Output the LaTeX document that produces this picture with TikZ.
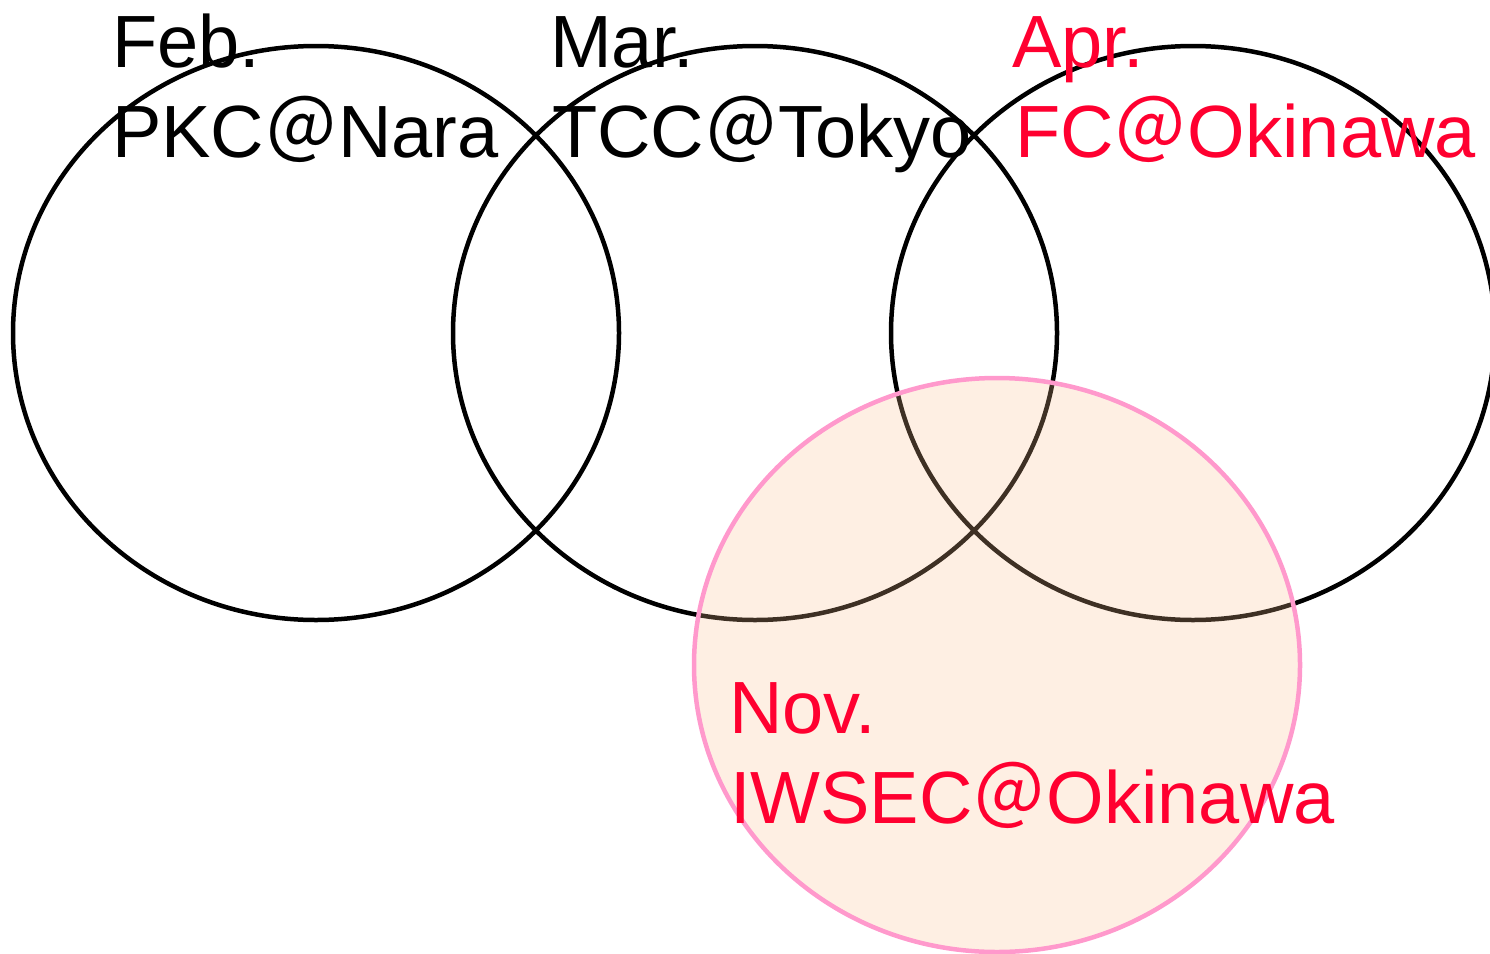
\documentclass[tikz,border=0pt]{standalone}
\usepackage{fontspec}
\setmainfont{Liberation Sans}
\newfontfamily\cjkat{Noto Sans CJK JP}
\definecolor{labred}{HTML}{FF0030}
\definecolor{pinkline}{HTML}{FF99CC}
\definecolor{peach}{HTML}{FAC090}
\newcommand{\fwat}{{\cjkat ＠}}
\begin{document}
\begin{tikzpicture}[x=1pt,y=-1pt,
  ring/.style={draw=black,line width=4.5pt},
  novring/.style={draw=pinkline,line width=4.5pt,fill=peach,fill opacity=0.25},
  lbl/.style={inner sep=0pt,anchor=base west,font=\fontsize{74}{90}\selectfont},
  redlbl/.style={lbl,text=labred}]
\useasboundingbox (0,0) rectangle (1490,953);
\draw[ring] (316,333) ellipse [x radius=303,y radius=287];
\draw[ring] (755,333) ellipse [x radius=302,y radius=287];
\draw[ring] (1193,333) ellipse [x radius=302,y radius=287];
\path[novring] (997,665) ellipse [x radius=303,y radius=287];
\node[lbl] (feb) at (112,67) {Feb.};
\node[lbl] (pkc) at (112,157) {PKC\fwat Nara};
\node[lbl] (mar) at (550,67) {Mar.};
\node[lbl] (tcc) at (552,157) {TCC\fwat Tokyo};
\node[redlbl] (apr) at (1012,67) {Apr.};
\node[redlbl] (fc) at (1015,157) {FC\fwat Okinawa};
\node[redlbl] (nov) at (729,733) {Nov.};
\node[redlbl] (iwsec) at (730,823) {IWSEC\fwat Okinawa};
\end{tikzpicture}
\end{document}
